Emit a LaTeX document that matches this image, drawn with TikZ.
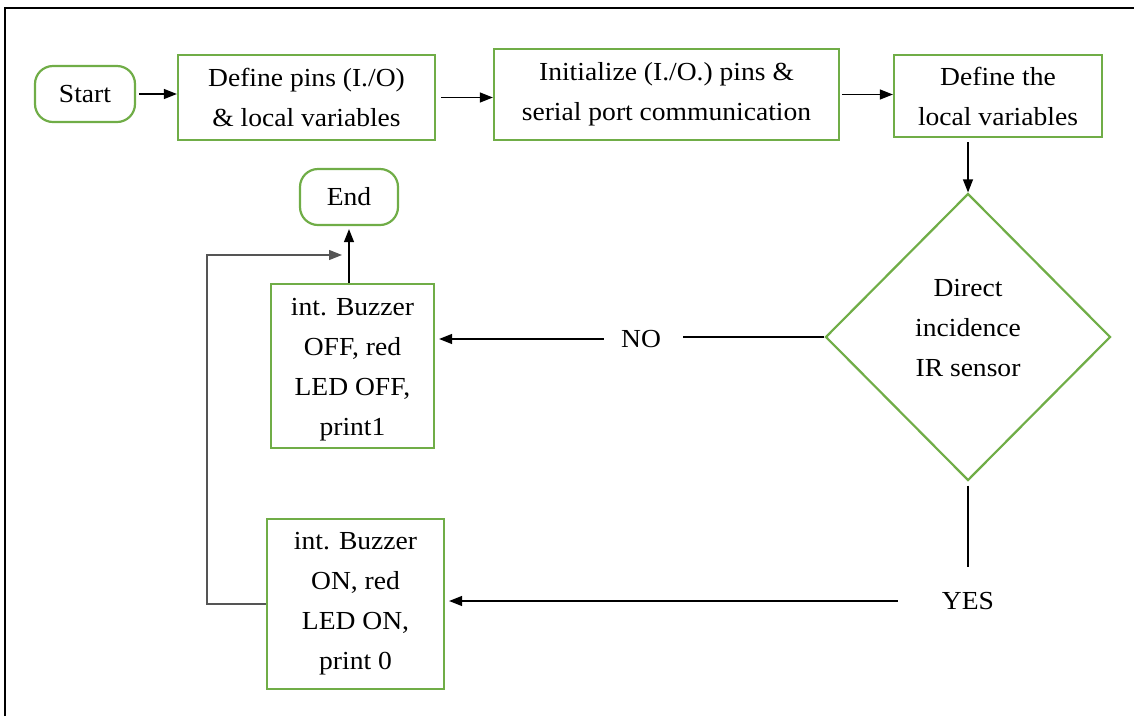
\documentclass[tikz,border=0pt]{standalone}
\usepackage{fontspec}
\setmainfont{Liberation Serif}[FakeStretch=1.06]
\usetikzlibrary{shapes.geometric,arrows.meta}
\definecolor{grn}{HTML}{70AD47}
\definecolor{loopgray}{HTML}{555555}
\begin{document}
\begin{tikzpicture}[x=1pt,y=-1pt,
 txt/.style={font=\fontsize{26}{40}\selectfont},
 box/.style={txt,draw=grn,line width=2.2pt,inner sep=0pt,align=center},
 term/.style={box,rounded corners=18pt},
 dec/.style={box,diamond,aspect=1},
 lbl/.style={txt,inner sep=0pt,align=center},
 line/.style={line width=1.2pt},
 conn/.style={line,-{Triangle[length=13pt,width=10pt]}}]
\useasboundingbox (0,0) rectangle (1134,716);
\draw[line width=2pt] (5,716) -- (5,8) -- (1134,8);

\node[term,minimum width=100pt,minimum height=56pt] (start) at (85,94) {Start};
\node[box,minimum width=257pt,minimum height=85pt] (def) at (306.5,97.5) {Define pins (I./O)\\\& local variables};
\node[box,minimum width=345pt,minimum height=91pt] (init) at (666.5,94.5) {Initialize (I./O.) pins \&\\serial port communication};
\node[box,minimum width=208pt,minimum height=82pt] (dthe) at (998,96) {Define the\\local variables};
\node[dec,minimum width=285pt,minimum height=287pt] (dec) at (968,337) {};
\node[lbl] (dectext) at ([yshift=9pt]dec.center) {Direct\\incidence\\IR sensor};
\node[term,minimum width=98pt,minimum height=56pt] (end) at (349,197) {End};
\node[box,minimum width=163pt,minimum height=164pt] (off) at (352.5,366) {};
\node[lbl] (offtext) at ([yshift=-4pt]off.center) {int. Buzzer\\OFF, red\\LED OFF,\\print1};
\node[box,minimum width=177pt,minimum height=170pt] (on) at (355.5,604) {int. Buzzer\\ON, red\\LED ON,\\print 0};
\node[lbl] (no) at (641,339) {NO};
\node[lbl] (yes) at (968,601) {YES};
\coordinate (lc) at (207,255);

\draw[conn,shorten <=3pt] (start.east) -- (start.east -| def.west);
\draw[conn,shorten <=5pt] (def.east) -- (def.east -| init.west);
\draw[conn,shorten <=2pt] (init.east) -- (init.east -| dthe.west);
\draw[conn,shorten <=4pt] (dthe.south -| dec.north) -- (dec.north);
\draw[line,shorten >=22pt] (dec.west) -- (dec.west -| no.east);
\draw[conn,shorten <=17pt,shorten >=4pt] (no.west) -- (no.west -| off.east);
\draw[line,shorten <=4pt,shorten >=25pt] (dec.south) -- (yes.north);
\draw[conn,shorten <=44pt,shorten >=4pt] (yes.west) -- (yes.west -| on.east);
\draw[conn,shorten >=3pt] (off.north -| end.south) -- (end.south);
\draw[conn,draw=loopgray,shorten >=7pt] (on.west) -| (lc) -- (lc -| end.south);
\end{tikzpicture}
\end{document}
